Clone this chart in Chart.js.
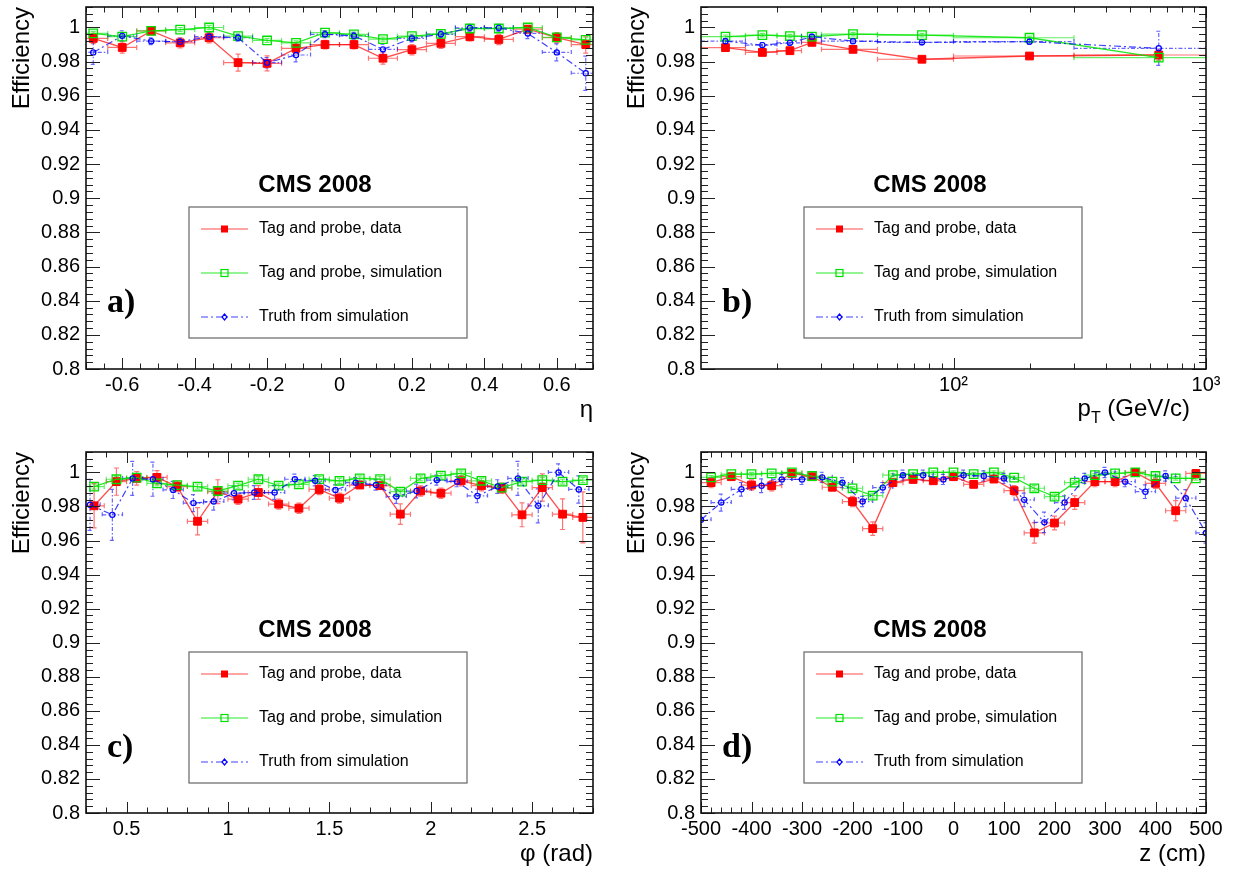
<!DOCTYPE html>
<html>
<head>
<meta charset="utf-8">
<script src="https://cdn.jsdelivr.net/npm/chart.js@4.4.1/dist/chart.umd.min.js"></script>
<style>
  body { margin: 0; background: #fff; }
  #wrap { position: relative; width: 1237px; height: 873px; }
  canvas { position: absolute; }
</style>
</head>
<body>
<div id="wrap">
  <canvas id="chartEta" width="618" height="436" style="left:0;top:0"></canvas>
  <canvas id="chartPt" width="619" height="436" style="left:618px;top:0"></canvas>
  <canvas id="chartPhi" width="618" height="437" style="left:0;top:436px"></canvas>
  <canvas id="chartZ" width="619" height="437" style="left:618px;top:436px"></canvas>
</div>
<script>
const FONT = "'Liberation Sans', Arial, Helvetica, sans-serif";

// shared texts
const panelTitle = 'CMS 2008';
const legendLabels = ['Tag and probe, data', 'Tag and probe, simulation', 'Truth from simulation'];

// tick labels
const effTicks = [0.8, 0.82, 0.84, 0.86, 0.88, 0.9, 0.92, 0.94, 0.96, 0.98, 1];
const etaTicks = [-0.6, -0.4, -0.2, 0, 0.2, 0.4, 0.6];
const ptTicks = [100, 1000];
const phiTicks = [0.5, 1, 1.5, 2, 2.5];
const zTicks = [-500, -400, -300, -200, -100, 0, 100, 200, 300, 400, 500];

// a) efficiency vs eta
const etaX = [-0.68, -0.60, -0.52, -0.44, -0.36, -0.28, -0.20, -0.12, -0.04, 0.04, 0.12, 0.20, 0.28, 0.36, 0.44, 0.52, 0.60, 0.68];
const etaData = [0.9936, 0.9883, 0.998, 0.991, 0.994, 0.9794, 0.979, 0.9878, 0.990, 0.990, 0.982, 0.987, 0.9907, 0.9946, 0.993, 0.999, 0.994, 0.990];
const etaDataErr = [0.003, 0.0033, 0.002, 0.003, 0.003, 0.005, 0.0044, 0.003, 0.0025, 0.0025, 0.0035, 0.003, 0.003, 0.0025, 0.003, 0.002, 0.003, 0.005];
const etaSim = [0.9965, 0.9946, 0.998, 0.9988, 1.0, 0.995, 0.9924, 0.991, 0.997, 0.996, 0.9932, 0.995, 0.9963, 0.9994, 0.9994, 1.0, 0.9942, 0.9928];
const etaSimErr = [0.0012, 0.0012, 0.0012, 0.0012, 0.0012, 0.0012, 0.0012, 0.0012, 0.0012, 0.0012, 0.0012, 0.0012, 0.0012, 0.0012, 0.0012, 0.0012, 0.0012, 0.0012];
const etaTruth = [0.9854, 0.9951, 0.992, 0.9917, 0.9946, 0.994, 0.9794, 0.9839, 0.996, 0.9951, 0.9872, 0.9936, 0.996, 0.9998, 0.9998, 0.9965, 0.9854, 0.9732];
const etaTruthErr = [0.007, 0.003, 0.002, 0.002, 0.002, 0.002, 0.003, 0.004, 0.002, 0.002, 0.003, 0.002, 0.002, 0.002, 0.002, 0.003, 0.005, 0.01];

// b) efficiency vs pT
const ptX = [12.5, 17.5, 22.5, 27.5, 40, 75, 200, 650];
const ptLow = [10, 15, 20, 25, 30, 50, 100, 300];
const ptHigh = [15, 20, 25, 30, 50, 100, 300, 1000];
const ptData = [0.9882, 0.9854, 0.9864, 0.9913, 0.9872, 0.9814, 0.9833, 0.9839];
const ptDataErr = [0.0015, 0.0015, 0.002, 0.0015, 0.0015, 0.0015, 0.0015, 0.003];
const ptSim = [0.9946, 0.9955, 0.995, 0.9946, 0.9961, 0.9955, 0.994, 0.9823];
const ptSimErr = [0.001, 0.001, 0.001, 0.001, 0.001, 0.001, 0.001, 0.002];
const ptTruth = [0.992, 0.9897, 0.991, 0.9946, 0.992, 0.9913, 0.9917, 0.9878];
const ptTruthErr = [0.0015, 0.0015, 0.0015, 0.0015, 0.0015, 0.0015, 0.0015, 0.01];

// c) efficiency vs phi
const phiX = [0.34, 0.45, 0.55, 0.65, 0.75, 0.85, 0.95, 1.05, 1.15, 1.25, 1.35, 1.45, 1.55, 1.65, 1.75, 1.85, 1.95, 2.05, 2.15, 2.25, 2.35, 2.45, 2.55, 2.65, 2.75];
const phiData = [0.9804, 0.9946, 0.9965, 0.9971, 0.9917, 0.9713, 0.9887, 0.9843, 0.9882, 0.9814, 0.979, 0.990, 0.9849, 0.9926, 0.9922, 0.9755, 0.9891, 0.9878, 0.9951, 0.9922, 0.9907, 0.9751, 0.9911, 0.9755, 0.9736];
const phiDataErr = [0.013, 0.008, 0.004, 0.004, 0.003, 0.008, 0.007, 0.003, 0.004, 0.003, 0.003, 0.003, 0.003, 0.002, 0.002, 0.006, 0.003, 0.003, 0.003, 0.003, 0.003, 0.007, 0.008, 0.009, 0.015];
const phiSim = [0.9917, 0.996, 0.9969, 0.9936, 0.9926, 0.9917, 0.9891, 0.9922, 0.996, 0.9922, 0.993, 0.9961, 0.9951, 0.9965, 0.9961, 0.9887, 0.9965, 0.9981, 0.9994, 0.9951, 0.9911, 0.9946, 0.9955, 0.9946, 0.9955];
const phiSimErr = [0.0015, 0.0015, 0.0015, 0.0015, 0.0015, 0.0015, 0.0015, 0.0015, 0.0015, 0.0015, 0.0015, 0.0015, 0.0015, 0.0015, 0.0015, 0.0015, 0.0015, 0.0015, 0.0015, 0.0015, 0.0015, 0.0015, 0.0015, 0.0015, 0.0015];
const phiTruthX = [0.32, 0.43, 0.53, 0.63, 0.73, 0.83, 0.93, 1.03, 1.13, 1.23, 1.33, 1.43, 1.53, 1.63, 1.73, 1.83, 1.93, 2.03, 2.13, 2.23, 2.33, 2.43, 2.53, 2.63, 2.73];
const phiTruth = [0.981, 0.9751, 0.9965, 0.996, 0.9897, 0.982, 0.9829, 0.9878, 0.9882, 0.9882, 0.996, 0.9951, 0.9897, 0.994, 0.9926, 0.9858, 0.9891, 0.9955, 0.9946, 0.9862, 0.9917, 0.9965, 0.9804, 1.0, 0.990];
const phiTruthErr = [0.015, 0.015, 0.01, 0.01, 0.005, 0.005, 0.005, 0.004, 0.004, 0.004, 0.003, 0.003, 0.003, 0.003, 0.003, 0.004, 0.004, 0.003, 0.003, 0.004, 0.004, 0.01, 0.01, 0.005, 0.008];

// d) efficiency vs z
const zX = [-480, -440, -400, -360, -320, -280, -240, -200, -160, -120, -80, -40, 0, 40, 80, 120, 160, 200, 240, 280, 320, 360, 400, 440, 480];
const zData = [0.994, 0.9975, 0.9926, 0.9922, 0.9994, 0.9975, 0.9913, 0.9829, 0.967, 0.994, 0.9959, 0.9951, 0.9975, 0.993, 0.9961, 0.9893, 0.9645, 0.9703, 0.9823, 0.9946, 0.9946, 1.0, 0.9936, 0.9775, 0.9994];
const zDataErr = [0.003, 0.002, 0.003, 0.003, 0.001, 0.002, 0.002, 0.003, 0.004, 0.002, 0.002, 0.002, 0.002, 0.002, 0.002, 0.003, 0.006, 0.004, 0.004, 0.003, 0.003, 0.001, 0.003, 0.006, 0.002];
const zSim = [0.9971, 0.999, 0.999, 0.9994, 1.0, 0.9979, 0.9946, 0.9907, 0.9864, 0.9984, 0.999, 1.0, 1.0, 0.999, 1.0, 0.9969, 0.9907, 0.9858, 0.994, 0.9984, 0.9994, 1.0, 0.9979, 0.9965, 0.9965];
const zSimErr = [0.001, 0.001, 0.001, 0.001, 0.001, 0.001, 0.001, 0.001, 0.0015, 0.001, 0.001, 0.001, 0.001, 0.001, 0.001, 0.001, 0.0015, 0.0015, 0.001, 0.001, 0.001, 0.001, 0.001, 0.001, 0.001];
const zTruthX = [-500, -460, -420, -380, -340, -300, -260, -220, -180, -140, -100, -60, -20, 20, 60, 100, 140, 180, 220, 260, 300, 340, 380, 420, 460, 500];
const zTruth = [0.9722, 0.9823, 0.9901, 0.9922, 0.9959, 0.9959, 0.9971, 0.994, 0.9829, 0.9911, 0.9984, 0.9984, 0.9959, 0.9984, 0.9979, 0.9965, 0.9839, 0.9707, 0.9823, 0.9965, 1.0, 0.9946, 0.9887, 0.9979, 0.9849, 0.9645];
const zTruthErr = [0.007, 0.005, 0.004, 0.004, 0.003, 0.003, 0.003, 0.003, 0.003, 0.003, 0.003, 0.003, 0.003, 0.003, 0.003, 0.003, 0.004, 0.006, 0.004, 0.003, 0.003, 0.003, 0.004, 0.003, 0.005, 0.006];

Chart.defaults.font.family = FONT;
Chart.defaults.color = '#000';

const RED = {
    order: 3, borderColor: 'rgba(255,0,0,0.7)', borderWidth: 1.3,
    pointStyle: 'rect', pointRadius: 5.5, pointBackgroundColor: '#ff0000',
    pointBorderColor: '#ff0000', pointBorderWidth: 1,
    errColor: 'rgba(255,0,0,0.55)', errDash: []
};
const GREEN = {
    order: 2, borderColor: 'rgba(0,230,0,0.85)', borderWidth: 1.3,
    pointStyle: 'rect', pointRadius: 6, pointBackgroundColor: 'rgba(0,0,0,0)',
    pointBorderColor: '#00e000', pointBorderWidth: 1.3,
    errColor: 'rgba(0,225,0,0.6)', errDash: []
};
const BLUE = {
    order: 1, borderColor: 'rgba(0,0,255,0.75)', borderWidth: 1.2, borderDash: [7, 3, 2, 3],
    pointStyle: 'circle', pointRadius: 2.6, pointBackgroundColor: 'rgba(0,0,0,0)',
    pointBorderColor: '#0000ff', pointBorderWidth: 1.2,
    errColor: 'rgba(0,0,255,0.6)', errDash: [4, 2, 1.5, 2]
};

function series(label, xs, ys, errs, lo, hi, style) {
    return Object.assign({
        label: label,
        data: xs.map((x, i) => ({ x: x, y: ys[i] })),
        yErr: errs, xLo: lo, xHi: hi,
        showLine: true, tension: 0
    }, style);
}

function range(lo, hi, step) {
    const out = [];
    for (let v = lo; v <= hi + step * 1e-6; v += step) out.push(+v.toFixed(6));
    return out;
}

function fmt(v) {
    return String(Math.round(v * 1000) / 1000);
}

const SUP = { 2: '\u00b2', 3: '\u00b3' };

// ROOT-like frame, inward ticks, error bars, legend and labels
const rootStyle = {
    id: 'rootStyle',
    beforeDatasetsDraw(chart) {
        const { ctx, chartArea: ca, scales: { x, y } } = chart;
        ctx.save();
        ctx.beginPath();
        ctx.rect(ca.left, ca.top, ca.right - ca.left, ca.bottom - ca.top);
        ctx.clip();
        chart.data.datasets.forEach(ds => {
            ctx.strokeStyle = ds.errColor;
            ctx.lineWidth = 1.2;
            ctx.setLineDash(ds.errDash);
            ds.data.forEach((p, i) => {
                const px = x.getPixelForValue(p.x), py = y.getPixelForValue(p.y);
                const y1 = y.getPixelForValue(p.y - ds.yErr[i]), y2 = y.getPixelForValue(p.y + ds.yErr[i]);
                const x1 = x.getPixelForValue(ds.xLo[i]), x2 = x.getPixelForValue(ds.xHi[i]);
                ctx.beginPath();
                ctx.moveTo(px, y1); ctx.lineTo(px, y2);
                ctx.moveTo(x1, py); ctx.lineTo(x2, py);
                ctx.moveTo(px - 2.5, y1); ctx.lineTo(px + 2.5, y1);
                ctx.moveTo(px - 2.5, y2); ctx.lineTo(px + 2.5, y2);
                ctx.moveTo(x1, py - 2.5); ctx.lineTo(x1, py + 2.5);
                ctx.moveTo(x2, py - 2.5); ctx.lineTo(x2, py + 2.5);
                ctx.stroke();
            });
        });
        ctx.restore();
    },
    afterDraw(chart, args, opts) {
        const { ctx, chartArea: ca, scales: { x, y } } = chart;
        ctx.save();

        // ticks on all four sides
        ctx.strokeStyle = '#222';
        ctx.lineWidth = 1;
        ctx.beginPath();
        const xt = (vals, len) => vals.forEach(v => {
            const p = Math.round(x.getPixelForValue(v)) + 0.5;
            ctx.moveTo(p, ca.bottom); ctx.lineTo(p, ca.bottom - len);
            ctx.moveTo(p, ca.top); ctx.lineTo(p, ca.top + len);
        });
        const yt = (vals, len) => vals.forEach(v => {
            const p = Math.round(y.getPixelForValue(v)) + 0.5;
            ctx.moveTo(ca.left, p); ctx.lineTo(ca.left + len, p);
            ctx.moveTo(ca.right, p); ctx.lineTo(ca.right - len, p);
        });
        xt(opts.xMajor, 11);
        xt(opts.xMinor, 5.5);
        yt(effTicks, 14);
        yt(range(0.8, 1.012, 0.004), 7);
        ctx.stroke();

        // frame
        ctx.lineWidth = 1.6;
        ctx.strokeStyle = '#111';
        ctx.strokeRect(ca.left, ca.top, ca.right - ca.left, ca.bottom - ca.top);

        // p_T title with subscript
        if (opts.ptTitle) {
            ctx.fillStyle = '#000';
            ctx.textBaseline = 'alphabetic';
            ctx.textAlign = 'right';
            ctx.font = '24px ' + FONT;
            const base = ca.bottom + 47;
            const rest = ' (GeV/c)';
            const rx = ca.right - 16;
            ctx.fillText(rest, rx, base);
            const wRest = ctx.measureText(rest).width;
            ctx.font = '16px ' + FONT;
            ctx.fillText('T', rx - wRest, base + 7);
            const wT = ctx.measureText('T').width;
            ctx.font = '24px ' + FONT;
            ctx.fillText('p', rx - wRest - wT, base);
        }

        // CMS 2008
        ctx.fillStyle = '#000';
        ctx.textAlign = 'center';
        ctx.textBaseline = 'middle';
        ctx.font = 'bold 24px ' + FONT;
        ctx.fillText(panelTitle, ca.left + 229, ca.top + 178);

        // legend box
        const bx = ca.left + 103, by = ca.top + 200;
        ctx.strokeStyle = '#666';
        ctx.lineWidth = 1.2;
        ctx.strokeRect(bx, by, 278, 131);
        const styles = [RED, GREEN, BLUE];
        legendLabels.forEach((txt, i) => {
            const ly = by + 22 + i * 44;
            const st = styles[i];
            ctx.strokeStyle = st.borderColor;
            ctx.lineWidth = 1.2;
            ctx.setLineDash(st.borderDash || []);
            ctx.beginPath();
            ctx.moveTo(bx + 12, ly); ctx.lineTo(bx + 59, ly);
            ctx.stroke();
            ctx.setLineDash([]);
            ctx.strokeStyle = st.pointBorderColor;
            if (i === 0) {
                ctx.fillStyle = st.pointBackgroundColor;
                ctx.fillRect(bx + 32, ly - 3.5, 7, 7);
            } else if (i === 1) {
                ctx.strokeRect(bx + 32, ly - 3.5, 7, 7);
            } else {
                ctx.beginPath();
                ctx.moveTo(bx + 35.5, ly - 3); ctx.lineTo(bx + 38, ly);
                ctx.lineTo(bx + 35.5, ly + 3); ctx.lineTo(bx + 33, ly);
                ctx.closePath();
                ctx.stroke();
            }
            ctx.fillStyle = '#000';
            ctx.textAlign = 'left';
            ctx.font = '16px ' + FONT;
            ctx.fillText(txt, bx + 70, ly);
        });

        // panel label
        ctx.font = "bold 34px 'Liberation Serif', 'Times New Roman', serif";
        ctx.textAlign = 'left';
        ctx.fillText(opts.label, ca.left + 21, ca.top + 296);
        ctx.restore();
    }
};

function makePanel(id, p) {
    return new Chart(document.getElementById(id), {
        type: 'scatter',
        data: {
            datasets: [
                series(legendLabels[0], p.x, p.data, p.dataErr, p.lo, p.hi, RED),
                series(legendLabels[1], p.x, p.sim, p.simErr, p.lo, p.hi, GREEN),
                series(legendLabels[2], p.tx, p.truth, p.truthErr, p.tlo, p.thi, BLUE)
            ]
        },
        options: {
            responsive: false,
            animation: false,
            events: [],
            layout: { autoPadding: false, padding: { top: p.top, right: p.right, bottom: 0, left: 0 } },
            plugins: {
                legend: { display: false },
                tooltip: { enabled: false },
                rootStyle: { label: p.label, xMajor: p.xMajor, xMinor: p.xMinor, ptTitle: !!p.ptTitle }
            },
            scales: {
                x: {
                    type: p.xType || 'linear',
                    min: p.xMin, max: p.xMax,
                    bounds: 'data',
                    afterFit: s => {
                        s.height = p.xHeight;
                        s.paddingLeft = 0; s.paddingRight = 0;
                    },
                    afterBuildTicks: s => { s.ticks = p.xTicks.map(v => ({ value: v })); },
                    grid: { display: false, drawTicks: false },
                    border: { display: false },
                    ticks: {
                        autoSkip: false, maxRotation: 0, padding: 4,
                        font: { size: 20 }, color: '#000',
                        callback: p.xFormat || fmt
                    },
                    title: {
                        display: !!p.xTitle, text: p.xTitle || '', align: 'end',
                        font: { size: 24 }, color: '#000',
                        padding: { top: 0, bottom: p.xHeight - 41 - 14.4 }
                    }
                },
                y: {
                    min: 0.8, max: 1.012,
                    bounds: 'data',
                    afterFit: s => {
                        s.width = p.yWidth;
                        s.paddingTop = 0; s.paddingBottom = 0;
                    },
                    afterBuildTicks: s => { s.ticks = effTicks.map(v => ({ value: v })); },
                    grid: { display: false, drawTicks: false },
                    border: { display: false },
                    ticks: { autoSkip: false, padding: 6, font: { size: 20 }, color: '#000', callback: fmt },
                    title: {
                        display: true, text: 'Efficiency', align: 'end',
                        font: { size: 24 }, color: '#000',
                        padding: { top: p.yWidth - 64 - 14.4, bottom: 0 }
                    }
                }
            }
        },
        plugins: [rootStyle]
    });
}

makePanel('chartEta', {
    label: 'a)', top: 7, right: 25, yWidth: 86, xHeight: 67,
    xMin: -0.7, xMax: 0.7, xTicks: etaTicks, xMajor: etaTicks, xMinor: range(-0.7, 0.7, 0.05),
    xTitle: '\u03b7',
    x: etaX, lo: etaX.map(v => v - 0.04), hi: etaX.map(v => v + 0.04),
    data: etaData, dataErr: etaDataErr, sim: etaSim, simErr: etaSimErr,
    tx: etaX, tlo: etaX.map(v => v - 0.04), thi: etaX.map(v => v + 0.04),
    truth: etaTruth, truthErr: etaTruthErr
});

makePanel('chartPt', {
    label: 'b)', top: 7, right: 31, yWidth: 83, xHeight: 67,
    xType: 'logarithmic', xMin: 10, xMax: 1000, xTicks: ptTicks, xMajor: ptTicks,
    xMinor: [20, 30, 40, 50, 60, 70, 80, 90, 200, 300, 400, 500, 600, 700, 800, 900],
    xFormat: v => '10' + SUP[Math.round(Math.log10(v))],
    ptTitle: true,
    x: ptX, lo: ptLow, hi: ptHigh,
    data: ptData, dataErr: ptDataErr, sim: ptSim, simErr: ptSimErr,
    tx: ptX, tlo: ptLow, thi: ptHigh,
    truth: ptTruth, truthErr: ptTruthErr
});

makePanel('chartPhi', {
    label: 'c)', top: 16, right: 25, yWidth: 86, xHeight: 60,
    xMin: 0.3, xMax: 2.8, xTicks: phiTicks, xMajor: phiTicks, xMinor: range(0.3, 2.8, 0.1),
    xTitle: '\u03c6 (rad)',
    x: phiX, lo: phiX.map(v => v - 0.05), hi: phiX.map(v => v + 0.05),
    data: phiData, dataErr: phiDataErr, sim: phiSim, simErr: phiSimErr,
    tx: phiTruthX, tlo: phiTruthX.map(v => v - 0.05), thi: phiTruthX.map(v => v + 0.05),
    truth: phiTruth, truthErr: phiTruthErr
});

makePanel('chartZ', {
    label: 'd)', top: 16, right: 31, yWidth: 83, xHeight: 60,
    xMin: -500, xMax: 500, xTicks: zTicks, xMajor: zTicks, xMinor: range(-500, 500, 20),
    xTitle: 'z (cm)',
    x: zX, lo: zX.map(v => v - 20), hi: zX.map(v => v + 20),
    data: zData, dataErr: zDataErr, sim: zSim, simErr: zSimErr,
    tx: zTruthX, tlo: zTruthX.map(v => v - 20), thi: zTruthX.map(v => v + 20),
    truth: zTruth, truthErr: zTruthErr
});
</script>
</body>
</html>
